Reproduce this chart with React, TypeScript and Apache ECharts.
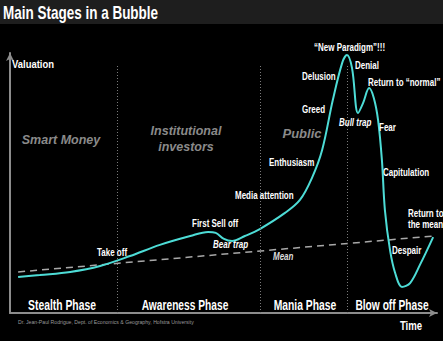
import React, { useEffect, useRef } from "react";
import * as echarts from "echarts";

// Bubble valuation curve (time, valuation) in a 0-100 frame
const curveTime = [1.9, 7.0, 14.1, 21.1, 28.1, 35.1, 42.2, 46.4, 48.2, 50.1, 52.0, 55.0, 58.5, 64.4, 67.9, 70.7, 73.1, 75.6, 77.8, 78.9, 80.1, 81.5, 82.7, 84.1, 85.2, 86.2, 87.1, 87.8, 89.0, 90.2, 91.8, 93.7, 96.0, 99.1];
const curveValue = [13.8, 14.6, 15.8, 18.1, 21.9, 26.2, 29.6, 31.2, 30.8, 28.5, 27.7, 29.6, 32.3, 38.5, 43.5, 51.9, 62.7, 81.9, 96.2, 99.2, 94.2, 76.9, 80.8, 86.5, 82.7, 74.2, 58.8, 39.6, 24.2, 15.4, 10.0, 11.5, 18.5, 29.2];
// Long-term mean
const meanTime = [1.9, 99.1];
const meanValue = [15.8, 29.6];
// Phase boundaries (time)
const phaseBounds = [25.1, 58.5, 78.9];
const phaseNames = ["Stealth Phase", "Awareness Phase", "Mania Phase", "Blow off Phase"];
const actorNames = ["Smart Money", "Institutional\ninvestors", "Public"];

const SANS = "'Liberation Sans', Arial, sans-serif";

function t(text: string, x: number, y: number, opts: any = {}) {
  return {
    type: "text",
    x,
    y,
    scaleX: opts.scaleX ?? 0.8,
    silent: true,
    style: {
      text,
      fill: opts.fill || "#ffffff",
      fontFamily: SANS,
      fontSize: opts.fontSize || 10,
      fontWeight: opts.fontWeight || "bold",
      fontStyle: opts.fontStyle || "normal",
      align: opts.align || "left",
      verticalAlign: "middle",
      lineHeight: opts.lineHeight,
    },
    z: 10,
  };
}

export default function App() {
  const ref = useRef<HTMLDivElement>(null);
  useEffect(() => {
    if (!ref.current) return;
    const chart = echarts.init(ref.current, null, { renderer: "svg" });
    const curve = curveTime.map((x, i) => [x, curveValue[i]]);
    const mean = meanTime.map((x, i) => [x, meanValue[i]]);
    const axisCommon = {
      type: "value",
      min: 0,
      max: 100,
      axisLine: {
        show: true,
        symbol: ["none", "arrow"],
        symbolSize: [6, 8],
        lineStyle: { color: "#8c8c8c", width: 2 },
      },
      axisTick: { show: false },
      axisLabel: { show: false },
      splitLine: { show: false },
    };
    const grey = { fontStyle: "italic", fill: "#8a8a8a", scaleX: 1, align: "center" };
    chart.setOption({
      animation: false,
      backgroundColor: "#000000",
      grid: { left: 10, top: 53, right: 6, bottom: 28 },
      xAxis: { ...axisCommon },
      yAxis: { ...axisCommon },
      series: [
        {
          type: "line",
          data: mean,
          symbol: "none",
          lineStyle: { color: "#a8a8a8", width: 1.5, type: [7, 5] },
          z: 2,
        },
        {
          type: "line",
          data: curve,
          smooth: 0.35,
          symbol: "none",
          lineStyle: { color: "#4ddcd6", width: 2 },
          z: 3,
          markLine: {
            silent: true,
            symbol: "none",
            label: { show: false },
            lineStyle: { color: "#7a7a7a", type: [1, 2], width: 1 },
            data: phaseBounds.map((b) => [
              { coord: [b, 0] },
              { coord: [b, 95.4] },
            ]),
          },
        },
      ],
      graphic: [
        { type: "rect", shape: { x: 0, y: 0, width: 443, height: 24 }, style: { fill: "#1e1e1e" }, z: 5 },
        t("Main Stages in a Bubble", 3, 13, { fontSize: 18, scaleX: 0.75 }),
        t("Valuation", 12, 64, { fontSize: 11, scaleX: 0.86 }),
        t("Time", 411, 326, { fontSize: 12, align: "center", scaleX: 0.8 }),
        // phase names
        t(phaseNames[0], 62, 305, { fontSize: 14, align: "center", scaleX: 0.74 }),
        t(phaseNames[1], 185, 305, { fontSize: 14, align: "center", scaleX: 0.73 }),
        t(phaseNames[2], 305, 305, { fontSize: 14, align: "center", scaleX: 0.74 }),
        t(phaseNames[3], 392, 305, { fontSize: 14, align: "center", scaleX: 0.73 }),
        // actors
        t(actorNames[0], 61, 140, { ...grey, fontSize: 12.5 }),
        t(actorNames[1], 186, 139, { ...grey, fontSize: 12.5, lineHeight: 16 }),
        t(actorNames[2], 302, 133, { ...grey, fontSize: 13 }),
        // annotations
        t("Take off", 97, 253),
        t("First Sell off", 192, 224),
        t("Bear trap", 213, 245, { fontStyle: "italic" }),
        t("Media attention", 235, 196),
        t("Mean", 273, 257, { fontStyle: "italic", fill: "#dddddd" }),
        t("Enthusiasm", 269, 163),
        t("Greed", 302, 110),
        t("Delusion", 302, 77),
        t("\u201CNew Paradigm\u201D!!!", 314, 48),
        t("Denial", 355, 66),
        t("Return to \u201Cnormal\u201D", 368, 83),
        t("Bull trap", 339, 123, { fontStyle: "italic" }),
        t("Fear", 379, 128),
        t("Capitulation", 383, 173),
        t("Return to\nthe mean", 408, 219, { lineHeight: 11 }),
        t("Despair", 392, 251),
        t("Dr. Jean-Paul Rodrigue, Dept. of Economics & Geography, Hofstra University", 18, 322, { fontSize: 6, fontWeight: "normal", fill: "#9a9a9a", scaleX: 0.86 }),
      ],
    });
    return () => chart.dispose();
  }, []);
  return (
    <div
      ref={ref}
      style={{ position: "fixed", left: 0, top: 0, width: 443, height: 341 }}
    />
  );
}
